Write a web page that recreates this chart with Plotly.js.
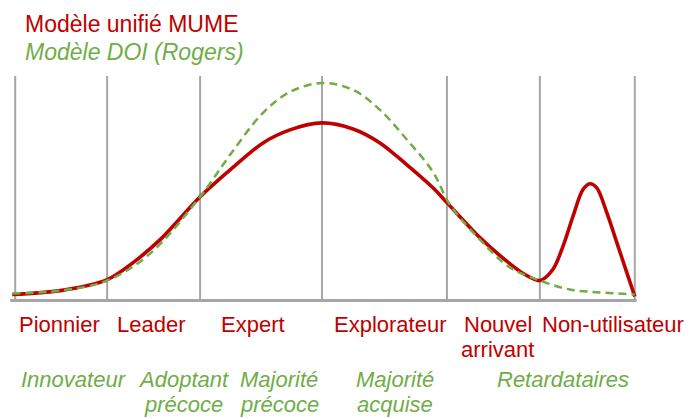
<!DOCTYPE html>
<html><head><meta charset="utf-8">
<script src="https://cdn.plot.ly/plotly-3.0.1.min.js"></script>
<style>html,body{margin:0;padding:0;background:#fff;}#chart{width:691px;height:419px;}</style>
</head><body><div id="chart"></div>
<script>
// Phase boundaries along the timeline (0-100)
const phaseBoundaries = [0, 14.84, 29.84, 49.52, 69.68, 84.68, 100];

// MUME unified model (red, solid)
const mumeX = [-0.48, 7.26, 14.84, 19.03, 23.39, 29.84, 34.68, 40.0, 44.35, 49.52, 54.52, 58.87, 63.23, 67.42, 69.68, 75.0, 79.84, 82.26, 84.68, 86.77, 88.39, 90.0, 91.61, 92.74, 93.87, 95.48, 97.1, 98.71, 100];
const mumeY = [2.7, 4.4, 9.3, 16.9, 27.1, 46.2, 58.2, 70.2, 76.0, 79.1, 76.4, 70.2, 60.4, 50.2, 43.6, 28.0, 16.4, 11.6, 8.9, 13.8, 24.0, 37.3, 49.3, 52.0, 50.2, 39.1, 25.8, 12.4, 1.8];

// DOI model (Rogers) (green, dashed)
const doiX = [-0.48, 7.26, 14.84, 21.77, 29.84, 34.68, 40.0, 44.35, 49.52, 54.52, 58.87, 63.23, 67.42, 70.16, 75.0, 79.84, 84.68, 89.52, 94.35, 100];
const doiY = [3.1, 4.4, 8.9, 20.9, 46.2, 64.9, 83.6, 92.9, 96.9, 93.8, 84.9, 71.6, 57.3, 42.7, 27.1, 14.7, 8.9, 4.9, 3.6, 2.7];

const seriesNames = ['Modèle unifié MUME', 'Modèle DOI (Rogers)'];

const mumeLabels = ['Pionnier', 'Leader', 'Expert', 'Explorateur', 'Nouvel\narrivant', 'Non-utilisateur'];
const mumeLabelX = [7.18, 22.02, 38.31, 60.65, 77.9, 96.45];
const doiLabels = ['Innovateur', 'Adoptant\nprécoce', 'Majorité\nprécoce', 'Majorité\nacquise', 'Retardataires'];
const doiLabelX = [9.52, 27.1, 42.58, 61.29, 88.39];

const RED = '#c00000';
const GREEN = '#70ad47';
const GRID = '#a6a6a6';
const FONT = 'Liberation Sans, Arial, sans-serif';

const traces = [
  {x: mumeX, y: mumeY, type: 'scatter', mode: 'lines', name: seriesNames[0],
   line: {color: RED, width: 3.6, shape: 'spline', smoothing: 0.9}, cliponaxis: false, hoverinfo: 'skip'},
  {x: doiX, y: doiY, type: 'scatter', mode: 'lines', name: seriesNames[1],
   line: {color: GREEN, width: 2.5, dash: '8px,5px', shape: 'spline', smoothing: 1}, cliponaxis: false, hoverinfo: 'skip'}
];

const shapes = phaseBoundaries.map(b => ({
  type: 'line', xref: 'x', yref: 'y', x0: b, x1: b, y0: 0, y1: 100,
  line: {color: GRID, width: 2}, layer: 'below'
}));
shapes.push({type: 'line', xref: 'x', yref: 'y', x0: -0.8, x1: 100.3, y0: 0, y1: 0,
  line: {color: GRID, width: 3}, layer: 'below'});

const annotations = [];
function addRows(labels, xs, rowYs, color, italic) {
  labels.forEach((lab, i) => {
    lab.split('\n').forEach((line, j) => {
      annotations.push({
        x: xs[i], xref: 'x', y: rowYs[j], yref: 'paper',
        text: italic ? '<i>' + line + '</i>' : line,
        showarrow: false, xanchor: 'center', yanchor: 'middle',
        font: {family: FONT, size: 22, color: color}
      });
    });
  });
}
addRows(mumeLabels, mumeLabelX, [-0.085, -0.194], RED, false);
addRows(doiLabels, doiLabelX, [-0.325, -0.434], GREEN, true);

annotations.push({x: 1.3, xref: 'x', y: 1.2266, yref: 'paper', text: seriesNames[0],
  showarrow: false, xanchor: 'left', yanchor: 'middle', font: {family: FONT, size: 23, color: RED}});
annotations.push({x: 1.3, xref: 'x', y: 1.1046, yref: 'paper', text: '<i>' + seriesNames[1] + '</i>',
  showarrow: false, xanchor: 'left', yanchor: 'middle', font: {family: FONT, size: 23, color: GREEN}});

const layout = {
  width: 691, height: 419,
  margin: {l: 8.8, r: 49.8, t: 76, b: 113.5, pad: 0},
  paper_bgcolor: '#fff', plot_bgcolor: '#fff',
  showlegend: false,
  xaxis: {range: [-1, 101], showgrid: false, zeroline: false, showline: false, showticklabels: false, ticks: '', fixedrange: true},
  yaxis: {range: [-2, 100], showgrid: false, zeroline: false, showline: false, showticklabels: false, ticks: '', fixedrange: true},
  shapes: shapes,
  annotations: annotations,
  hovermode: false
};

Plotly.newPlot('chart', traces, layout, {staticPlot: true, displayModeBar: false});
</script>
</body></html>
